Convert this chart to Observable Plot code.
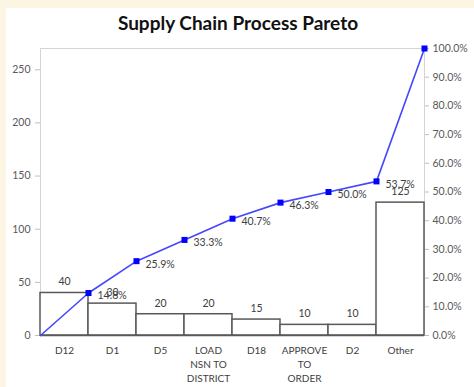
<!DOCTYPE html>
<html>
<head>
<meta charset="utf-8">
<script src="https://cdn.jsdelivr.net/npm/d3@7"></script>
<script src="https://cdn.jsdelivr.net/npm/@observablehq/plot@0.6"></script>
<style>
  html, body { margin: 0; padding: 0; }
  body { width: 474px; height: 387px; background: #fdf5e3; position: relative; overflow: hidden; font-family: Lato, "Open Sans", sans-serif; }
  #card { position: absolute; left: 6px; top: 8px; width: 468px; height: 379px; background: #ffffff; }
  #title { height: 32px; line-height: 29px; text-align: center; font-size: 19px; font-weight: bold; color: #111; font-family: Lato, "Open Sans", sans-serif; padding-right: 4px; }
  svg { display: block; }
</style>
</head>
<body>
<div id="card">
  <div id="title">Supply Chain Process Pareto</div>
  <div id="chart"></div>
</div>
<script>
const categories = ["D12", "D1", "D5", "LOAD\nNSN TO\nDISTRICT", "D18", "APPROVE\nTO\nORDER", "D2", "Other"];
const counts = [40, 30, 20, 20, 15, 10, 10, 125];
const cumulativePct = [14.8, 25.9, 33.3, 40.7, 46.3, 50.0, 53.7, 100.0];
const leftTicks = [0, 50, 100, 150, 200, 250];
const rightTickPct = [0, 10, 20, 30, 40, 50, 60, 70, 80, 90, 100];

const total = d3.sum(counts);
const bars = categories.map((c, i) => ({cat: c, i, count: counts[i]}));
const linePts = [{x: 0, y: 0}].concat(cumulativePct.map((p, i) => ({x: i + 1, y: p / 100 * total, pct: p})));
const markerPts = linePts.slice(1);

const chart = Plot.plot({
  width: 468,
  height: 347,
  marginTop: 8,
  marginLeft: 34,
  marginRight: 50,
  marginBottom: 52,
  style: {fontFamily: "Lato, 'Open Sans', sans-serif", fontSize: "10px", color: "#595959", background: "transparent"},
  x: {domain: [0, categories.length], axis: null},
  y: {domain: [0, total], axis: null},
  marks: [
    Plot.frame({stroke: "#d4d4d4"}),
    Plot.axisY({ticks: leftTicks, tickSize: 5, tickPadding: 5, stroke: "#bfbfbf", color: "#595959", fontSize: 10.5, tickFormat: d => d}),
    Plot.axisY({anchor: "right", ticks: rightTickPct.map(p => p / 100 * total), tickSize: 4, tickPadding: 4, stroke: "#bfbfbf", color: "#595959", fontSize: 10.5,
      tickFormat: d => (d / total * 100).toFixed(1) + "%"}),
    Plot.rectY(bars, {x1: d => d.i, x2: d => d.i + 1, y: "count", fill: "white", stroke: "#595959", strokeWidth: 1.5}),
    Plot.ruleY([0], {stroke: "#595959", strokeWidth: 1.5}),
    Plot.text(bars, {x: d => d.i + 0.5, y: "count", text: d => String(d.count), dy: -11, fill: "#404040", fontSize: 10.5}),
    Plot.text(bars, {x: d => d.i + 0.5, y: 0, text: "cat", dy: 9, lineAnchor: "top", lineHeight: 1.4, fill: "#404040", fontSize: 10}),
    Plot.line(linePts, {x: "x", y: "y", stroke: "#4646ff", strokeWidth: 1.6}),
    Plot.dot(markerPts, {x: "x", y: "y", symbol: "square", r: 3.4, fill: "#0000ff", stroke: "none"}),
    Plot.text(markerPts.slice(0, 7), {x: "x", y: "y", text: d => d.pct.toFixed(1) + "%", textAnchor: "start", dx: 9, dy: 3, fill: "#404040", fontSize: 10.5})
  ]
});
document.getElementById("chart").appendChild(chart);
</script>
</body>
</html>
